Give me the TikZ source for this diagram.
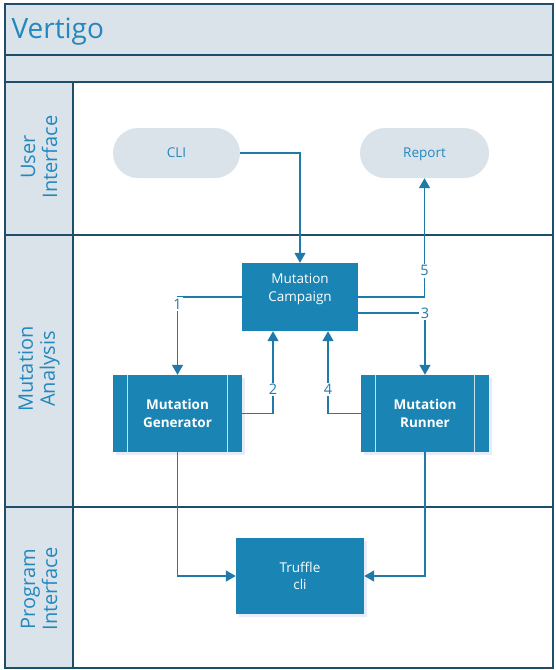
\documentclass[tikz,border=0pt]{standalone}
\usepackage{fontspec}
\setmainfont{Open Sans}
\usetikzlibrary{arrows.meta,shadows}
\definecolor{boxblue}{RGB}{26,132,180}
\definecolor{lanefill}{RGB}{218,227,234}
\definecolor{frameline}{RGB}{30,78,105}
\definecolor{lineblue}{RGB}{31,122,170}
\definecolor{shadowc}{RGB}{230,236,248}
\definecolor{txtblue}{RGB}{36,135,190}
\tikzset{
  frame/.style={draw=frameline, line width=1.6pt},
  band/.style={fill=lanefill},
  pill/.style={fill=lanefill, rounded corners=25pt, minimum width=127pt, minimum height=50pt,
    text=txtblue, font=\fontsize{13.5}{18}\selectfont, text height=11pt, text depth=2pt},
  proc/.style={fill=boxblue, draw=none, text=white, align=center,
    font=\fontsize{13.5}{17.5}\selectfont},
  shad/.style={general shadow={fill=shadowc, shadow xshift=3pt, shadow yshift=-3pt}},
  subp/.style={proc, shad, font=\fontsize{13.5}{17.5}\selectfont\bfseries},
  inner/.style={draw=white!75!boxblue, line width=0.9pt},
  conn/.style={draw=lineblue, line width=1.4pt, -{Triangle[length=10pt,width=11pt]}},
  lbl/.style={fill=white, text=lineblue, inner sep=1.5pt, font=\fontsize{14.5}{16}\selectfont},
  lanelbl/.style={rotate=90, align=center, text=txtblue, font=\fontsize{20}{22}\selectfont},
}
\begin{document}
\begin{tikzpicture}[x=1pt,y=-1pt]
\useasboundingbox (0,0) rectangle (555,670);
% bands
\fill[band] (5,4) rectangle (553,82);
\fill[band] (5,82) rectangle (73,668);
% frame lines
\draw[frame] (5,4) rectangle (553,668);
\draw[frame] (5,55) -- (553,55);
\draw[frame] (5,82) -- (553,82);
\draw[frame] (5,235) -- (553,235);
\draw[frame] (5,507) -- (553,507);
\draw[frame] (73,82) -- (73,668);
% title and lane labels
\node[anchor=west, text=txtblue, font=\fontsize{28}{32}\selectfont] (title) at (8,32) {Vertigo};
\node[lanelbl] (lui) at (39,157) {User\\Interface};
\node[lanelbl] (lma) at (39,369) {Mutation\\Analysis};
\node[lanelbl] (lpi) at (39,589) {Program\\Interface};
% nodes
\node[pill] (cli) at (176.5,153) {CLI};
\node[pill, minimum width=129pt] (report) at (424.5,153) {Report};
\node[proc, minimum width=116pt, minimum height=68pt] (camp) at (300,297) {};
\node[proc] (camptext) at (300,289) {Mutation\\Campaign};
\node[subp, minimum width=129pt, minimum height=77pt] (gen) at (177.5,413.5) {Mutation\\Generator};
\node[subp, minimum width=128pt, minimum height=77pt] (run) at (425,413.5) {Mutation\\Runner};
\node[proc, shad, minimum width=128pt, minimum height=76pt] (truffle) at (300,576) {Truffle\\cli};
% subprocess inner lines
\draw[inner] ([xshift=15pt]gen.north west) -- ([xshift=15pt]gen.south west);
\draw[inner] ([xshift=-15pt]gen.north east) -- ([xshift=-15pt]gen.south east);
\draw[inner] ([xshift=15pt]run.north west) -- ([xshift=15pt]run.south west);
\draw[inner] ([xshift=-15pt]run.north east) -- ([xshift=-15pt]run.south east);
% connectors
\draw[conn] (cli.east) -| (camp.north);
\draw[conn] (camp.east) -| node[lbl, pos=0.61] {5} (report.south);
\draw[conn] (camp.west) -| node[lbl, pos=0.545] {1} (gen.north);
\draw[conn] ([yshift=-16pt]camp.east) -| node[lbl, pos=0.5] {3} (run.north);
\draw[conn] (gen.east) -| node[lbl, pos=0.646] {2} ([xshift=-27pt]camp.south);
\draw[conn] (run.west) -| node[lbl, pos=0.646] {4} ([xshift=28pt]camp.south);
\draw[conn] (gen.south) |- (truffle.west);
\draw[conn] (run.south) |- (truffle.east);
\end{tikzpicture}
\end{document}
